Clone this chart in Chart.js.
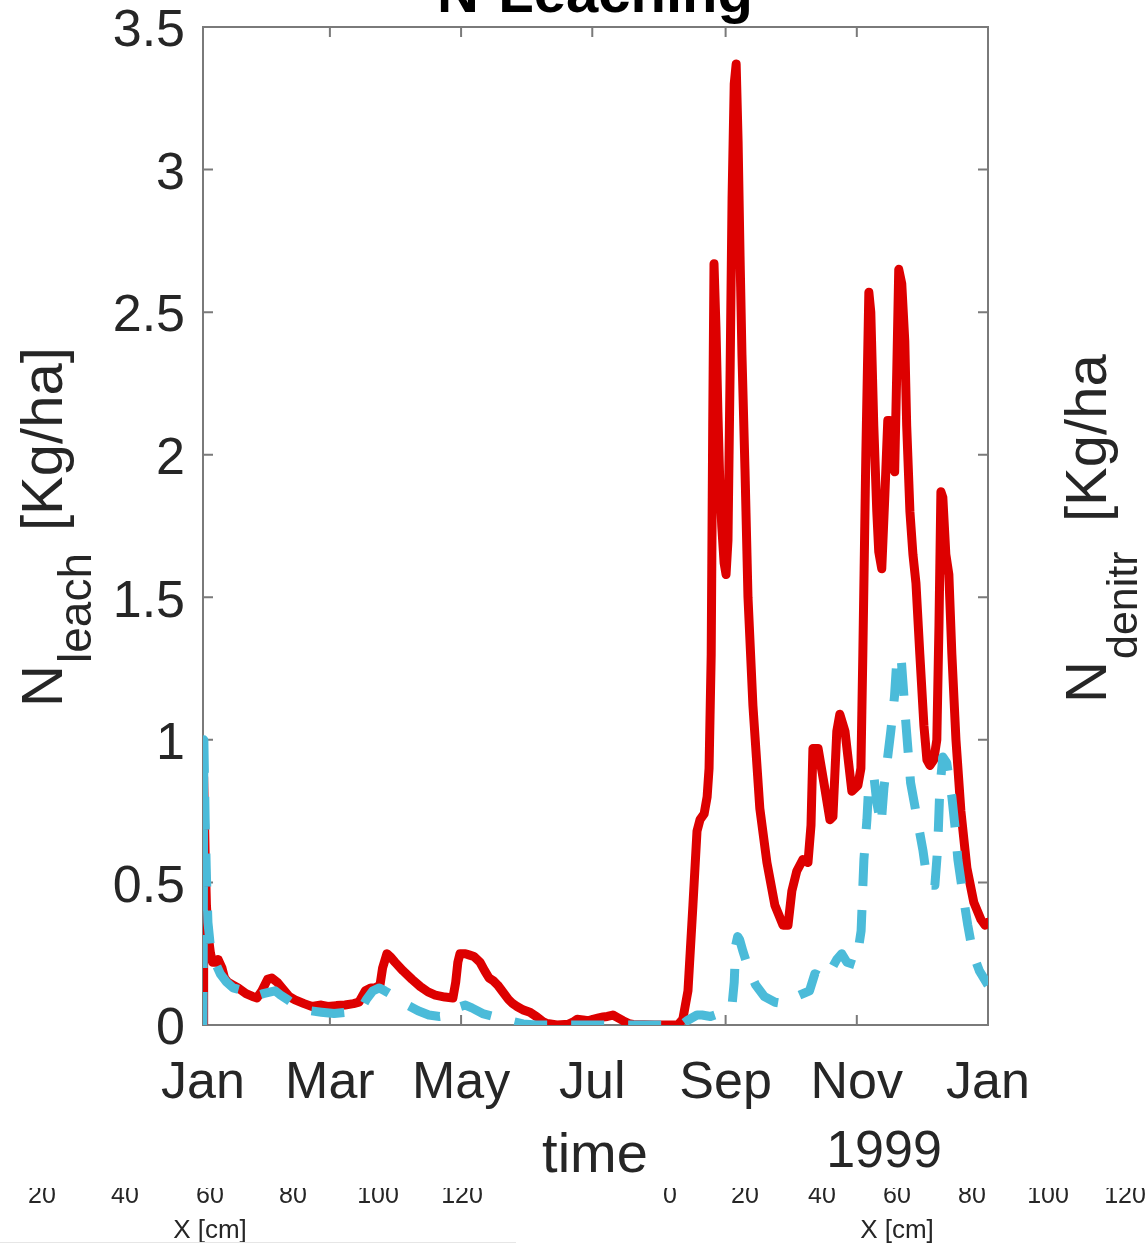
<!DOCTYPE html>
<html><head><meta charset="utf-8">
<script src="https://cdn.jsdelivr.net/npm/chart.js@4.4.1/dist/chart.umd.min.js"></script>
<style>html,body{margin:0;padding:0;background:#fff;overflow:hidden}#wrap{position:relative;width:1148px;height:1245px}</style>
</head><body><div id="wrap"><canvas id="c" width="1148" height="1245"></canvas></div>
<script>
const tickDays = [0, 59, 120, 181, 243, 304, 365];
const tickLabels = ['Jan', 'Mar', 'May', 'Jul', 'Sep', 'Nov', 'Jan'];
const yTicks = [0, 0.5, 1, 1.5, 2, 2.5, 3, 3.5];

const leachDays = [0,0.3,1.0,1.6,2.3,3.5,4.5,5.6,7.0,8.8,10,11.6,14,16.3,20,23,25.1,27.4,30,32,34.5,36.7,40,42.8,47,50.7,55,58,62,66,70,72.5,74,75.5,78,80,82.3,83.5,85.5,87,89.3,93,97.2,101,104.6,108,112.5,116.2,117.5,118.5,119.5,122,124,126,128.8,131,133,135,137,139,142,144,146,148.8,152,155.3,158,160,164.6,170,172,174,176.7,179,181.3,184,186,188,190.6,193,195.3,198,200,210,220.8,223.1,225.5,227.8,229.7,231.1,233,234.4,235.3,236.3,237,237.6,238.5,239.4,240.3,241.2,242.3,243.2,244.1,245.1,246,247,247.9,248.8,249.7,250.6,252,253.4,255.7,258.9,262.2,265.9,269.7,272,273.8,276.1,278.9,281.3,282.7,283.6,286,288.7,291.5,292.9,294.7,296.1,298.5,301.7,304.5,305.9,306.8,308.2,309.6,310.5,311.9,313.3,314.2,315.6,317,318.4,319.3,320.2,321.6,322.6,323.5,324.9,326.3,327.2,328.7,330.1,331.5,333.3,335.2,336.6,338,339.8,341.2,342.2,343.1,344,345.4,346.8,348.2,350.1,352.4,355.2,358.4,361.7,363.6,365];
const leachVals = [0,0.87,0.6,0.42,0.32,0.25,0.22,0.22,0.23,0.2,0.165,0.15,0.14,0.13,0.11,0.1,0.095,0.12,0.16,0.165,0.15,0.13,0.1,0.088,0.075,0.065,0.07,0.065,0.068,0.07,0.075,0.08,0.1,0.12,0.13,0.13,0.14,0.2,0.25,0.24,0.22,0.19,0.16,0.135,0.116,0.105,0.098,0.095,0.15,0.22,0.25,0.25,0.245,0.24,0.22,0.19,0.165,0.155,0.14,0.12,0.09,0.075,0.065,0.053,0.045,0.028,0.012,0.005,0,0.003,0.01,0.02,0.018,0.015,0.02,0.025,0.028,0.03,0.035,0.025,0.015,0.005,0.002,0,0,0.02,0.12,0.42,0.68,0.72,0.74,0.8,0.9,1.3,2.1,2.67,2.45,2.15,1.9,1.75,1.62,1.58,1.7,2.3,2.9,3.3,3.37,3.1,2.7,2.35,1.95,1.5,1.12,0.76,0.57,0.42,0.35,0.35,0.47,0.54,0.58,0.57,0.7,0.97,0.97,0.85,0.72,0.73,1.03,1.09,1.03,0.82,0.84,0.9,1.3,2.0,2.57,2.5,2.1,1.8,1.66,1.6,1.85,2.12,2.12,1.97,1.94,2.3,2.65,2.6,2.4,2.1,1.8,1.65,1.55,1.3,1.05,0.93,0.91,0.93,1.0,1.4,1.87,1.85,1.65,1.58,1.3,1.0,0.75,0.55,0.43,0.37,0.35,0.36];

const denitrDays = [0,0.4,1.0,1.6,2.3,3.5,5.6,8,11,14,19,24,28,33.5,36,39.5,44,50,55,61,69,73.5,76,79,82,84.5,89,95,100,105,110,115,119,122,125,130,135,141,148.8,155,222.5,225,229.7,232,236,240,242,244,246,247,247.7,248.6,249.5,251,254,257,261,266,270,273,276,279,282,284.5,287,290,292.5,294.7,297,299.4,303.6,306,307.3,308.7,309.6,312,313.3,315.3,316.6,319.8,321.5,322.6,324.5,326.8,329,332.4,334.8,337,340.3,341.6,342.6,344,345.8,348.2,349.6,351,353.3,355.6,358,361,365];
const denitrVals = [0,1.0,0.72,0.52,0.36,0.27,0.22,0.18,0.15,0.13,0.12,0.1,0.11,0.12,0.105,0.088,0.063,0.05,0.045,0.04,0.046,0.056,0.09,0.12,0.13,0.12,0.1,0.07,0.05,0.035,0.03,0.035,0.063,0.07,0.06,0.04,0.03,0.018,0.004,0,0,0.015,0.035,0.035,0.03,0.04,0.06,0.065,0.07,0.15,0.28,0.31,0.3,0.26,0.19,0.14,0.1,0.08,0.075,0.08,0.1,0.11,0.12,0.18,0.17,0.16,0.2,0.23,0.25,0.22,0.21,0.33,0.58,0.72,0.85,0.87,0.78,0.7,0.83,1.03,1.15,1.28,1.3,1.06,0.85,0.71,0.61,0.49,0.49,0.62,0.83,0.94,0.92,0.8,0.7,0.58,0.46,0.35,0.25,0.19,0.14];

const leftFragTicks = ['20', '40', '60', '80', '100', '120'];
const rightFragTicks = ['0', '20', '40', '60', '80', '100', '120'];

const FONT = "'Liberation Sans', Arial, Helvetica, sans-serif";
const TXT = '#262626';
const AXIS = '#7a7a7a';

function drawRotated(ctx, x0, y0, parts) {
  ctx.save();
  ctx.translate(x0, y0);
  ctx.rotate(-Math.PI / 2);
  ctx.fillStyle = TXT;
  ctx.textAlign = 'left';
  ctx.textBaseline = 'alphabetic';
  parts.forEach(p => {
    ctx.font = p.size + 'px ' + FONT;
    ctx.fillText(p.text, p.u, p.v);
  });
  ctx.restore();
}

const decor = {
  id: 'decor',
  beforeDatasetsDraw(chart) {
    const { ctx, chartArea: a, scales: { x, y } } = chart;
    ctx.save();
    ctx.strokeStyle = AXIS;
    ctx.lineWidth = 2;
    ctx.strokeRect(a.left, a.top, a.right - a.left, a.bottom - a.top);
    ctx.beginPath();
    x.ticks.forEach(t => {
      const px = x.getPixelForValue(t.value);
      ctx.moveTo(px, a.bottom); ctx.lineTo(px, a.bottom - 10);
      ctx.moveTo(px, a.top); ctx.lineTo(px, a.top + 10);
    });
    y.ticks.forEach(t => {
      const py = y.getPixelForValue(t.value);
      ctx.moveTo(a.left, py); ctx.lineTo(a.left + 10, py);
      ctx.moveTo(a.right, py); ctx.lineTo(a.right - 10, py);
    });
    ctx.stroke();
    ctx.restore();
  },
  afterDraw(chart) {
    const ctx = chart.ctx;
    ctx.save();
    ctx.fillStyle = '#000';
    ctx.textAlign = 'center';
    ctx.textBaseline = 'alphabetic';
    ctx.font = 'bold 58px ' + FONT;
    ctx.fillText('N-Leaching', 595, 12);
    ctx.fillStyle = TXT;
    ctx.font = '56px ' + FONT;
    ctx.fillText('time', 595, 1172);
    ctx.font = '52px ' + FONT;
    ctx.fillText('1999', 884, 1167);
    ctx.restore();

    drawRotated(ctx, 62, 707, [
      { text: 'N', size: 58, u: 0, v: 0 },
      { text: 'leach', size: 46, u: 44, v: 29 },
      { text: '[Kg/ha]', size: 58, u: 176, v: 0 }
    ]);
    drawRotated(ctx, 1106, 703, [
      { text: 'N', size: 58, u: 0, v: 0 },
      { text: 'denitr', size: 43, u: 44, v: 31 },
      { text: '[Kg/ha', size: 58, u: 181, v: 0 }
    ]);

    // fragments of neighbouring panels at the bottom
    ctx.save();
    ctx.beginPath();
    ctx.rect(0, 1188, 1148, 60);
    ctx.clip();
    ctx.fillStyle = TXT;
    ctx.textAlign = 'center';
    ctx.font = '25px ' + FONT;
    const lx = [42, 125, 210, 293, 378, 462];
    leftFragTicks.forEach((t, i) => ctx.fillText(t, lx[i], 1203));
    const rx = [670, 745, 822, 897, 972, 1048, 1125];
    rightFragTicks.forEach((t, i) => ctx.fillText(t, rx[i], 1203));
    ctx.font = '26px ' + FONT;
    ctx.fillText('X [cm]', 210, 1238);
    ctx.fillText('X [cm]', 897, 1238);
    ctx.restore();
    ctx.save();
    ctx.strokeStyle = '#e6e6e6';
    ctx.lineWidth = 1;
    ctx.beginPath();
    ctx.moveTo(0, 1242.5); ctx.lineTo(516, 1242.5);
    ctx.stroke();
    ctx.restore();
  }
};

new Chart(document.getElementById('c'), {
  type: 'line',
  data: {
    datasets: [
      {
        label: 'N denitr',
        data: denitrDays.map((d, i) => ({ x: d, y: denitrVals[i] })),
        borderColor: '#4BBBD9',
        borderWidth: 9,
        borderDash: [33, 24],
        borderCapStyle: 'butt',
        borderJoinStyle: 'round',
        pointRadius: 0,
        tension: 0,
        fill: false,
        order: 0
      },
      {
        label: 'N leach',
        data: leachDays.map((d, i) => ({ x: d, y: leachVals[i] })),
        borderColor: '#DD0000',
        borderWidth: 9,
        borderCapStyle: 'round',
        borderJoinStyle: 'round',
        pointRadius: 0,
        tension: 0,
        fill: false,
        order: 1
      }
    ]
  },
  options: {
    responsive: false,
    animation: false,
    devicePixelRatio: 1,
    layout: { padding: { left: 0, top: 27, right: 160, bottom: 0 } },
    plugins: { legend: { display: false }, tooltip: { enabled: false }, title: { display: false } },
    scales: {
      x: {
        type: 'linear', min: 0, max: 365,
        afterBuildTicks: s => { s.ticks = tickDays.map(v => ({ value: v })); },
        afterFit: s => { s.height = 220; },
        grid: { display: false, drawTicks: false }, border: { display: false },
        ticks: {
          autoSkip: false, maxRotation: 0, padding: 33, color: TXT,
          font: { size: 52, family: FONT, lineHeight: 1 },
          callback: (v, i) => tickLabels[i]
        }
      },
      y: {
        min: 0, max: 3.5,
        afterBuildTicks: s => { s.ticks = yTicks.map(v => ({ value: v })); },
        afterFit: s => { s.width = 203; },
        grid: { display: false, drawTicks: false }, border: { display: false },
        ticks: {
          padding: 18, labelOffset: 5, color: TXT,
          font: { size: 52, family: FONT, lineHeight: 0.2 },
          callback: v => String(v)
        }
      }
    }
  },
  plugins: [decor]
});
</script></body></html>
